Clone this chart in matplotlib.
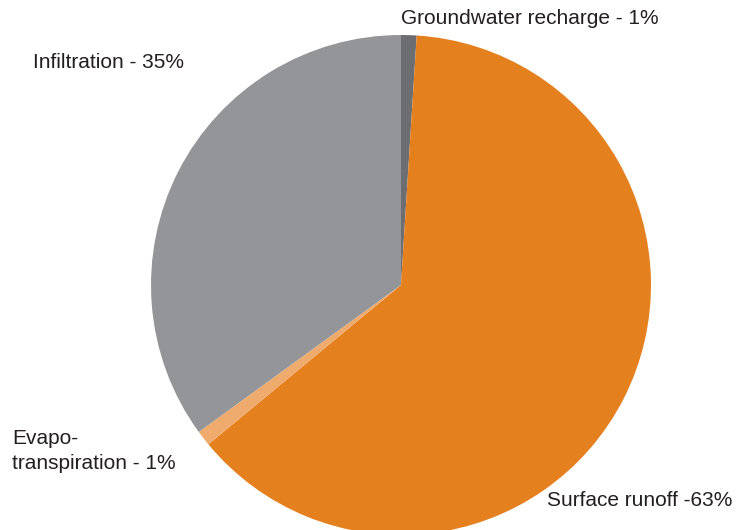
import matplotlib.pyplot as plt

labels = ["Groundwater recharge - 1%", "Surface runoff -63%",
          "Evapo-\ntranspiration - 1%", "Infiltration - 35%"]
shares = [1, 63, 1, 35]
colors = ["#6d6e71", "#e5801e", "#efab6e", "#939598"]

W, H = 745, 530
fig = plt.figure(figsize=(W / 100, H / 100), dpi=100)
ax = fig.add_axes([0, 0, 1, 1])

cx, cy, r = 401, H - 285, 250
ax.pie(shares, colors=colors, startangle=90, counterclock=False,
       center=(cx, cy), radius=r, frame=True,
       wedgeprops=dict(linewidth=0))
ax.set_xlim(0, W)
ax.set_ylim(0, H)
ax.set_aspect("equal")
ax.axis("off")

# label anchors in pixel coords (left edge, vertical centre from top)
label_pos = [(401, 19), (547, 501), (12, 451), (33, 62)]
for text, (x, y) in zip(labels, label_pos):
    ax.text(x, H - y, text, ha="left", va="center", fontsize=15,
            family="Liberation Sans", color="#231f20", linespacing=1.4)

fig.savefig("out.png", dpi=100)
